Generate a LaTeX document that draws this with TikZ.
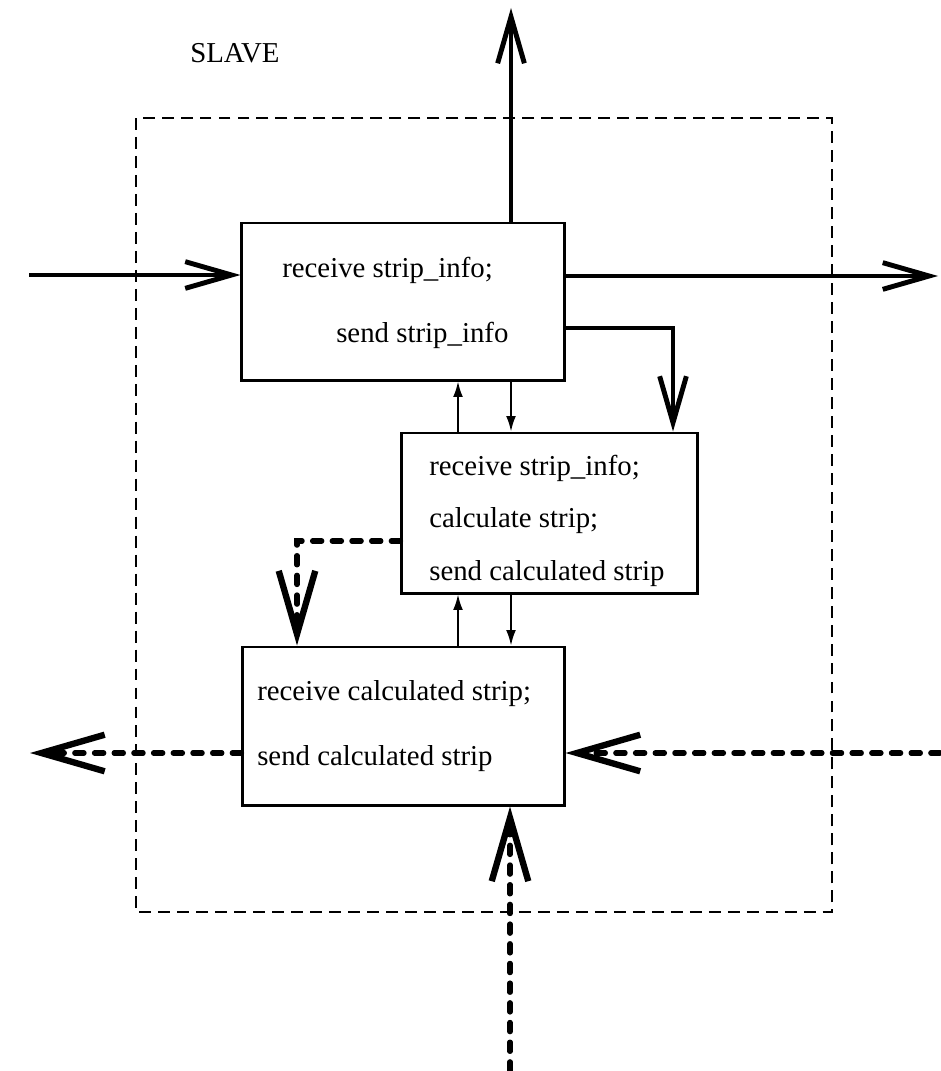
\documentclass[tikz,border=0pt]{standalone}
\usepackage{fontspec}
\setmainfont{Liberation Serif}
\usetikzlibrary{arrows.meta}

\begin{document}
\begin{tikzpicture}
            [x=0.025cm, y=-0.025cm, font=\fontsize{20.5}{24}\selectfont,
             proc/.style={shape=rectangle, draw=black, line width=2.1pt, inner sep=0pt},
             txt/.style={anchor=base west, inner sep=0pt},
             big/.style={line width=3.5pt, -{Straight Barb[length=33pt, width=19pt, line width=3.5pt]}},
             small/.style={line width=1.3pt, -{Latex[length=11pt, width=7pt]}},
             dots/.style={line width=3.8pt, dash pattern=on 6.5pt off 7.5pt, line cap=round,
                          -{Straight Barb[length=45pt, width=26pt, line width=4.5pt]}}]
            \useasboundingbox (0,0) rectangle (940,1071);
            \draw[line width=1.9pt, dash pattern=on 8.5pt off 5pt] (136,118) rectangle (832,912);
            \node[txt] (slave) at (190,63) {SLAVE};

            \node[proc, minimum width=8.05cm, minimum height=3.925cm] (p1) at (403,301.5) {};
            \node[proc, minimum width=7.375cm, minimum height=4cm] (p2) at (549.5,513) {};
            \node[proc, minimum width=8.025cm, minimum height=3.95cm] (p3) at (403.5,726) {};

            \node[txt] (p1a) at (282,277) {receive strip\_info;};
            \node[txt] (p1b) at (336,342) {send strip\_info};
            \node[txt] (p2a) at (429,475) {receive strip\_info;};
            \node[txt] (p2b) at (429,527) {calculate strip;};
            \node[txt] (p2c) at (429,580) {send calculated strip};
            \node[txt] (p3a) at (257,700) {receive calculated strip;};
            \node[txt] (p3b) at (257,765) {send calculated strip};

            \coordinate (in1) at (29,275);
            \coordinate (up1) at (511,8);
            \coordinate (out1) at (938,276);
            \coordinate (snd) at (673,328);
            \coordinate (a1) at (458,0);
            \coordinate (a2) at (511,0);
            \coordinate (d1) at (297,541);
            \coordinate (out2) at (30,753);
            \coordinate (in2) at (940,753);
            \coordinate (in3) at (510,1071);

            \draw[big] (in1) -- (p1.west |- in1);
            \draw[big, line width=2.4pt] (p1.north -| up1) -- (up1);
            \draw[big] (p1.east |- out1) -- (out1);
            \draw[big] (p1.east |- snd) -- (snd) -- (p2.north -| snd);

            \draw[small] (p2.north -| a1) -- (p1.south -| a1);
            \draw[small] (p1.south -| a2) -- (p2.north -| a2);
            \draw[small] (p3.north -| a1) -- (p2.south -| a1);
            \draw[small] (p2.south -| a2) -- (p3.north -| a2);

            \draw[dots] (p2.west |- d1) -- (d1) -- (p3.north -| d1);
            \draw[dots] (p3.west |- out2) -- (out2);
            \draw[dots] (in2) -- (p3.east |- in2);
            \draw[dots] (in3) -- (p3.south -| in3);
        \end{tikzpicture}
\end{document}
